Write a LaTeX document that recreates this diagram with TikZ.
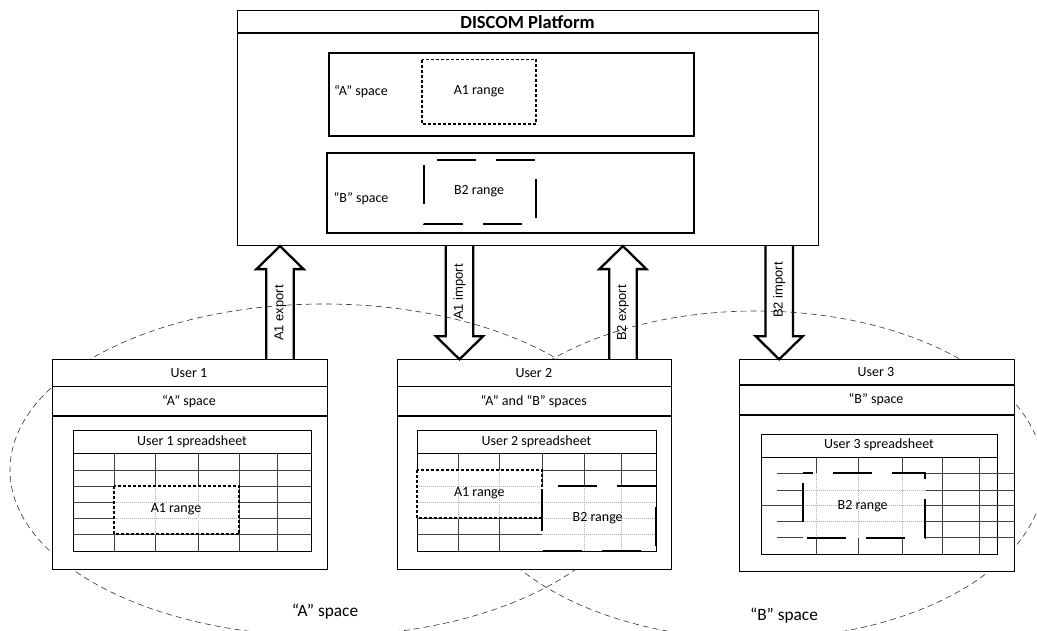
\documentclass[tikz,border=0pt]{standalone}
\usepackage{fontspec}
\setmainfont{Carlito}
\newfontfamily\arialfont{Liberation Sans}
\usetikzlibrary{calc}

\tikzset{
  box/.style={draw, line width=1.1pt, fill=white, inner sep=0pt, anchor=north west},
  spacebox/.style={draw, line width=1.8pt, inner sep=0pt, anchor=north west},
  sheetbox/.style={draw, line width=1pt, fill=white, inner sep=0pt, anchor=north west},
  lbl/.style={font=\fontsize{14}{16}\selectfont, inner sep=1pt},
  biglbl/.style={font=\fontsize{17.3}{19}\selectfont, inner sep=1pt},
  titlelbl/.style={font=\bfseries\fontsize{18.5}{20}\selectfont, inner sep=1pt},
  arrowlbl/.style={font=\arialfont\fontsize{13}{14}\selectfont, rotate=90, inner sep=0pt},
  gridline/.style={black!75, line width=0.75pt},
  celldot/.style={black!30, line width=0.5pt, dash pattern=on 1pt off 1pt},
  aborder/.style={line width=1.7pt, dash pattern=on 3pt off 2pt},
  bborder/.style={line width=1.8pt, dash pattern=on 39pt off 20pt},
  spaceline/.style={black!80, line width=0.6pt, dash pattern=on 6pt off 4pt},
  fatline/.style={line width=2.3pt, line join=miter},
}

% block arrow: #1 tail, #2 tip
\newcommand{\fatarrow}[2]{%
  \draw[fatline] let \p1=(#1), \p2=(#2), \p3=($(#2)!23pt!(#1)$) in
    (\x1-13.75pt,\y1) -- (\x1-13.75pt,\y3) -- (\x1-23.5pt,\y3) -- (\p2)
    -- (\x1+23.5pt,\y3) -- (\x1+13.75pt,\y3) -- (\x1+13.75pt,\y1);}

\begin{document}
\begin{tikzpicture}[x=1pt,y=-1pt]
\useasboundingbox (0,0) rectangle (1037,630);

% the two sharing spaces
\draw[spaceline] (324,470) ellipse [x radius=314, y radius=166];
\draw[spaceline] (756,475) ellipse [x radius=288, y radius=164];
\node[biglbl] (aspacelbl) at (325,611.7) {“A” space};
\node[biglbl] (bspacelbl) at (784,616) {“B” space};

% platform
\node[box, minimum width=581pt, minimum height=235pt] (plat) at (237,10) {};
\draw[line width=1.1pt] (237,33) -- (818,33);
\node[titlelbl] (title) at (527.5,22) {DISCOM Platform};

\node[spacebox, minimum width=365pt, minimum height=83pt] (aspace) at (328,52) {};
\node[lbl] (aspacetxt) at (361,92) {“A” space};
\draw[aborder] (422,59.6) rectangle (536,124);
\node[lbl] (pa1) at (479,91) {A1 range};

\node[spacebox, minimum width=367pt, minimum height=80pt] (bspace) at (326,152) {};
\node[lbl] (bspacetxt) at (361,199) {“B” space};
\draw[bborder, dash phase=46pt] (424,160) -- (536,160) -- (536,224) -- (424,224) -- cycle;
\node[lbl] (pb2) at (479,191) {B2 range};

% users
\node[box, minimum width=275pt, minimum height=209.7pt] (u1) at (51.7,359.3) {};
\draw[line width=1.1pt] (51.7,386.7) -- (326.7,386.7) (51.7,416) -- (326.7,416);
\node[lbl] (u1name) at (189,373) {User 1};
\node[lbl] (u1space) at (189,401.7) {“A” space};

\node[box, minimum width=274.3pt, minimum height=209.7pt] (u2) at (396.7,359.3) {};
\draw[line width=1.1pt] (396.7,386.7) -- (671,386.7) (396.7,416) -- (671,416);
\node[lbl] (u2name) at (533.8,373) {User 2};
\node[lbl] (u2space) at (533.8,401.7) {“A” and “B” spaces};

\node[box, minimum width=275pt, minimum height=211.4pt] (u3) at (738.7,359.3) {};
\draw[line width=1.1pt] (738.7,385) -- (1013.7,385) (738.7,415) -- (1013.7,415);
\node[lbl] (u3name) at (876,371.7) {User 3};
\node[lbl] (u3space) at (876,400) {“B” space};

% import / export
\coordinate (ax1) at (280,0);
\coordinate (ai1) at (459.5,0);
\coordinate (bx2) at (622.9,0);
\coordinate (bi2) at (779.2,0);
\fatarrow{ax1 |- u1.north}{ax1 |- plat.south}
\fatarrow{ai1 |- plat.south}{ai1 |- u2.north}
\fatarrow{bx2 |- u2.north}{bx2 |- plat.south}
\fatarrow{bi2 |- plat.south}{bi2 |- u3.north}
\node[arrowlbl] (ax1lbl) at (280.3,313) {A1 export};
\node[arrowlbl] (ai1lbl) at (459.5,292) {A1 import};
\node[arrowlbl] (bx2lbl) at (622.9,313) {B2 export};
\node[arrowlbl] (bi2lbl) at (779.2,290) {B2 import};

% user 1 spreadsheet
\node[sheetbox, minimum width=237.4pt, minimum height=120.7pt] (s1) at (73.3,430) {};
\draw[line width=1pt] (73.3,453.3) -- (310.7,453.3);
\node[lbl] (s1name) at (192,441.7) {User 1 spreadsheet};
\foreach \x in {114,155,198.3,239.3,277.3}
  \draw[gridline] (\x,453.3) -- (\x,550.7);
\foreach \y in {470,486,502.3,518.3,534.3}
  \draw[gridline] (73.3,\y) -- (310.7,\y);
\fill[white] (114,486) rectangle (239.3,534.3);
\foreach \x in {155,198.3} \draw[celldot] (\x,486) -- (\x,534.3);
\foreach \y in {502.3,518.3} \draw[celldot] (114,\y) -- (239.3,\y);
\draw[aborder] (114,486) rectangle (239.3,534.3);
\node[lbl] (s1a1) at (176,509.3) {A1 range};

% user 2 spreadsheet
\node[sheetbox, minimum width=238.4pt, minimum height=120.7pt] (s2) at (417.3,430) {};
\draw[line width=1pt] (417.3,453.3) -- (655.7,453.3);
\node[lbl] (s2name) at (536.5,441.7) {User 2 spreadsheet};
\foreach \x in {458.3,499.3,542.3,584,621}
  \draw[gridline] (\x,453.3) -- (\x,550.7);
\foreach \y in {470,486,502.3,518.3,534.3}
  \draw[gridline] (417.3,\y) -- (655.7,\y);
\fill[white] (417.3,470) rectangle (542.3,518.3);
\fill[white] (542.3,486) rectangle (655.7,550.7);
\foreach \x in {458.3,499.3} \draw[celldot] (\x,470) -- (\x,518.3);
\foreach \y in {486,502.3} \draw[celldot] (417.3,\y) -- (542.3,\y);
\foreach \x in {584,621} \draw[celldot] (\x,486) -- (\x,550.7);
\foreach \y in {502.3,518.3,534.3} \draw[celldot] (542.3,\y) -- (655.7,\y);
\draw[aborder] (417.3,470) rectangle (542.3,518.3);
\draw[bborder, dash phase=43pt] (542.3,486) -- (655.7,486) -- (655.7,550.7) -- (542.3,550.7) -- cycle;
\node[lbl] (s2a1) at (479.3,492.7) {A1 range};
\node[lbl] (s2b2) at (597.7,518.3) {B2 range};

% user 3 spreadsheet
\node[sheetbox, minimum width=236.6pt, minimum height=120pt] (s3) at (760.7,434) {};
\draw[line width=1pt] (760.7,457.3) -- (997.3,457.3);
\node[lbl] (s3name) at (879,445) {User 3 spreadsheet};
\foreach \x in {816.7,858.3,902.3,942.3,979.3}
  \draw[gridline] (\x,457.3) -- (\x,554);
\foreach \y in {473.3,490,521.7,537.7}
  \draw[gridline] (777,\y) -- (1015,\y);
\draw[gridline] (760.7,505.7) -- (1015,505.7);
\fill[white] (802.7,473.3) rectangle (925,537.7);
\foreach \x in {816.7,858.3,902.3} \draw[celldot] (\x,473.3) -- (\x,537.7);
\foreach \y in {490,505.7,521.7} \draw[celldot] (802.7,\y) -- (925,\y);
\draw[bborder, dash phase=29pt] (802.7,473.3) -- (925,473.3) -- (925,537.7) -- (802.7,537.7) -- cycle;
\node[lbl] (s3b2) at (862.7,506) {B2 range};
\end{tikzpicture}
\end{document}
